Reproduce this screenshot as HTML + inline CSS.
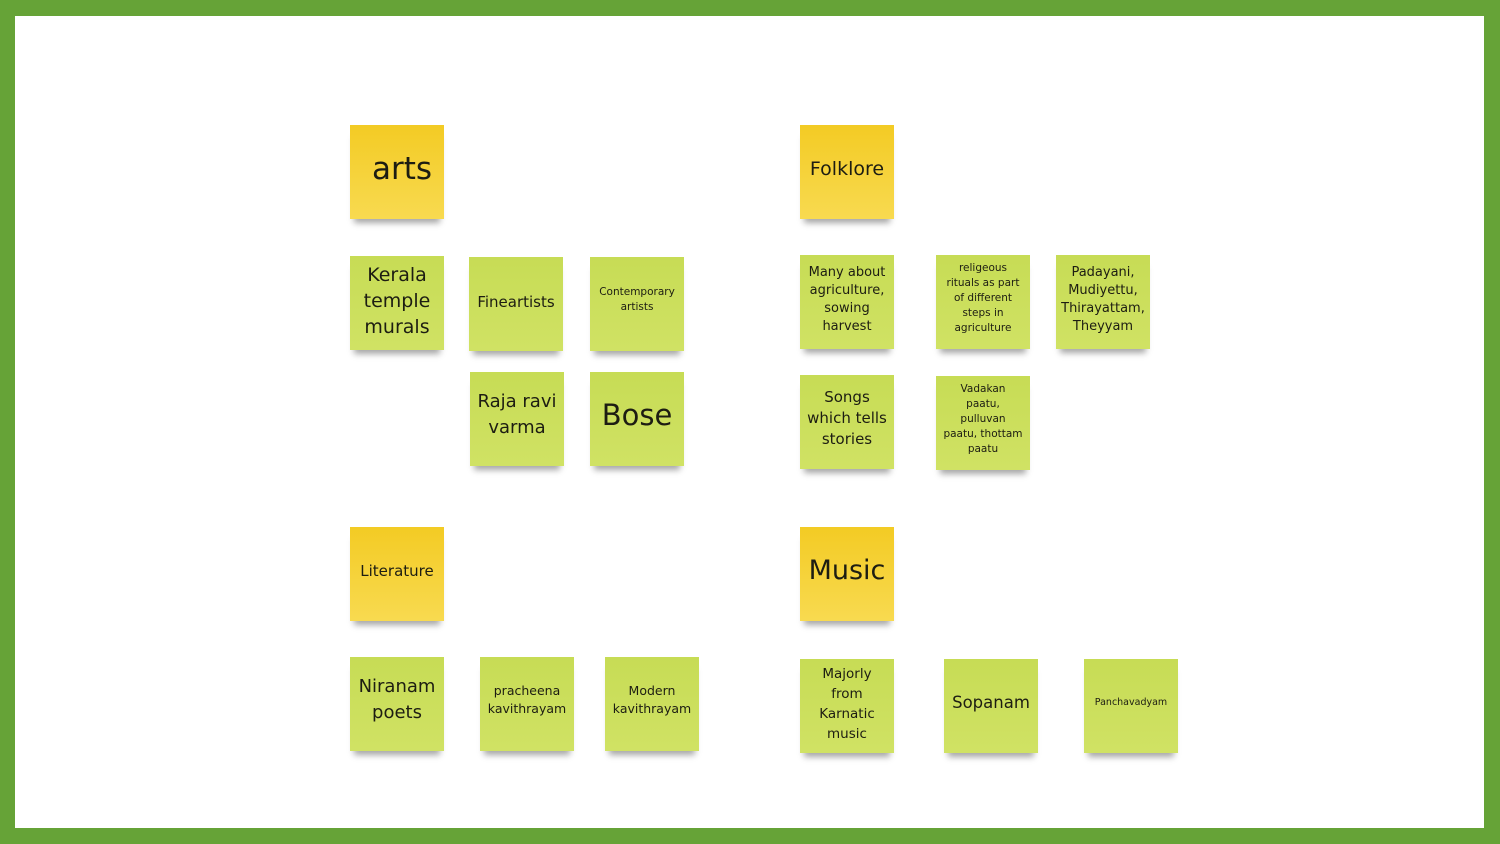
<!DOCTYPE html>
<html><head><meta charset="utf-8">
<style>
html,body{margin:0;padding:0}
body{width:1500px;height:844px;background:#66a337;position:relative;overflow:hidden;font-family:"DejaVu Sans","Liberation Sans",sans-serif}
.in{position:absolute;left:15px;top:16px;width:1469px;height:812px;background:#fff}
.n{position:absolute;width:94px;height:94px;display:flex;align-items:center;justify-content:center;text-align:center;color:#1d1d12;box-sizing:border-box;padding:0 3px;background:linear-gradient(#c7dc55,#d0e264);box-shadow:0 8px 6px -4px rgba(0,0,0,.35)}
.y{background:linear-gradient(#f3cb24,#f8da50)}
</style></head><body>
<div class="in"></div>
<div class="n y" style="left:350px;top:125px;font-size:31px;padding:0 0 6px 10px">arts</div>
<div class="n y" style="left:800px;top:125px;font-size:19px;padding-bottom:6px">Folklore</div>
<div class="n y" style="left:350px;top:527px;font-size:15px;padding-bottom:6px">Literature</div>
<div class="n y" style="left:800px;top:527px;font-size:27px;padding-bottom:8px">Music</div>

<div class="n" style="left:350px;top:256px;font-size:19px;line-height:26px;padding-bottom:4px">Kerala temple murals</div>
<div class="n" style="left:469px;top:257px;font-size:15px;padding-bottom:4px">Fineartists</div>
<div class="n" style="left:590px;top:257px;font-size:10.5px;line-height:15px;padding-bottom:8px">Contemporary artists</div>
<div class="n" style="left:470px;top:372px;font-size:18px;line-height:26px;padding-bottom:8px">Raja ravi<br>varma</div>
<div class="n" style="left:590px;top:372px;font-size:29px;padding-bottom:8px">Bose</div>

<div class="n" style="left:800px;top:255px;font-size:13px;line-height:18px;padding-bottom:4px">Many about agriculture, sowing harvest</div>
<div class="n" style="left:936px;top:255px;font-size:10.5px;line-height:15px;padding-bottom:8px">religeous<br>rituals as part<br>of different<br>steps in<br>agriculture</div>
<div class="n" style="left:1056px;top:255px;font-size:13px;line-height:18px;padding:0 0 4px 0">Padayani, Mudiyettu, Thirayattam, Theyyam</div>
<div class="n" style="left:800px;top:375px;font-size:15px;line-height:21px;padding-bottom:8px">Songs<br>which tells<br>stories</div>
<div class="n" style="left:936px;top:376px;font-size:10.5px;line-height:15px;padding-bottom:8px">Vadakan<br>paatu,<br>pulluvan<br>paatu, thottam<br>paatu</div>

<div class="n" style="left:350px;top:657px;font-size:18px;line-height:26px;padding-bottom:8px">Niranam<br>poets</div>
<div class="n" style="left:480px;top:657px;font-size:12.5px;line-height:18px;padding-bottom:8px">pracheena kavithrayam</div>
<div class="n" style="left:605px;top:657px;font-size:12.5px;line-height:18px;padding-bottom:8px">Modern kavithrayam</div>
<div class="n" style="left:800px;top:659px;font-size:13.5px;line-height:20px;padding-bottom:4px">Majorly<br>from<br>Karnatic<br>music</div>
<div class="n" style="left:944px;top:659px;font-size:16.5px;padding-bottom:8px">Sopanam</div>
<div class="n" style="left:1084px;top:659px;font-size:9.5px;padding-bottom:8px">Panchavadyam</div>
</body></html>
